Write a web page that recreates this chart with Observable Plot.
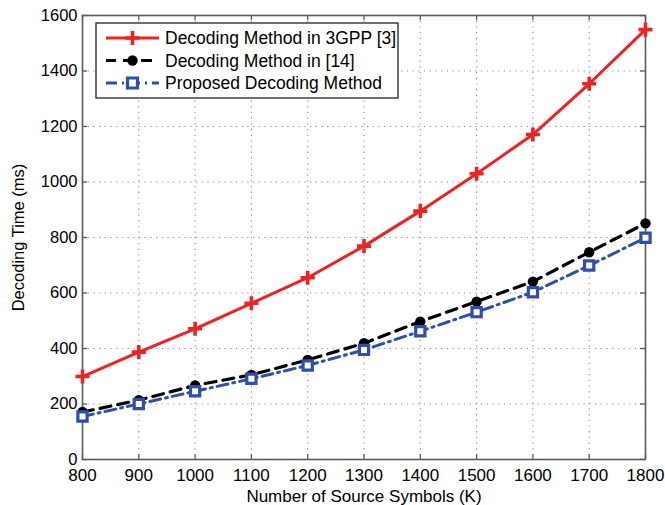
<!DOCTYPE html>
<html><head><meta charset="utf-8">
<script src="https://cdn.jsdelivr.net/npm/d3@7"></script>
<script src="https://cdn.jsdelivr.net/npm/@observablehq/plot@0.6"></script>
<style>body{margin:0;background:#fff}#chart{width:665px;height:505px}</style>
</head><body><div id="chart"></div>
<script>
const symbols = [800, 900, 1000, 1100, 1200, 1300, 1400, 1500, 1600, 1700, 1800];
const time3gpp = [299, 387, 471, 563, 655, 769, 895, 1030, 1171, 1354, 1549];
const timeRef14 = [171, 214, 267, 305, 359, 419, 497, 569, 641, 747, 851];
const timeProposed = [155, 200, 246, 291, 339, 395, 462, 531, 603, 699, 799];
const seriesNames = ["Decoding Method in 3GPP [3]", "Decoding Method in [14]", "Proposed Decoding Method"];
const xTicks = [800, 900, 1000, 1100, 1200, 1300, 1400, 1500, 1600, 1700, 1800];
const yTicks = [0, 200, 400, 600, 800, 1000, 1200, 1400, 1600];
const xLabel = "Number of Source Symbols (K)";
const yLabel = "Decoding Time (ms)";

const rows = (ys) => symbols.map((x, i) => ({x, y: ys[i]}));
const d1 = rows(time3gpp), d2 = rows(timeRef14), d3s = rows(timeProposed);

const W = 665, H = 505, mL = 82, mR = 20, mT = 15, mB = 46;
const red = "#ee2222", blk = "#000", blue = "#2f4fa8";
const gridCol = "#8a8a8a", axCol = "#5a5a5a";
const FONT = "Arimo, 'Liberation Sans', Arial, sans-serif";

const plot = Plot.plot({
  width: W, height: H,
  marginLeft: mL, marginRight: mR, marginTop: mT, marginBottom: mB,
  style: {fontFamily: FONT, fontSize: "17px", color: "#000", background: "#fff"},
  x: {domain: [800, 1800]},
  y: {domain: [0, 1600]},
  marks: [
    Plot.gridX(xTicks, {stroke: gridCol, strokeOpacity: 1, strokeWidth: 1.1, strokeDasharray: "1.2,4.5"}),
    Plot.gridY(yTicks, {stroke: gridCol, strokeOpacity: 1, strokeWidth: 1.1, strokeDasharray: "1.2,4.5"}),
    Plot.tickX(xTicks, {x: d => d, stroke: axCol, strokeWidth: 1.3, insetTop: H - mT - mB - 5}),
    Plot.tickX(xTicks, {x: d => d, stroke: axCol, strokeWidth: 1.3, insetBottom: H - mT - mB - 5}),
    Plot.tickY(yTicks, {y: d => d, stroke: axCol, strokeWidth: 1.3, insetRight: W - mL - mR - 5}),
    Plot.tickY(yTicks, {y: d => d, stroke: axCol, strokeWidth: 1.3, insetLeft: W - mL - mR - 5}),
    Plot.axisX({ticks: xTicks, tickSize: 0, tickPadding: 9.5, tickFormat: d => String(d), label: xLabel, labelAnchor: "center", labelOffset: 42, labelArrow: false, fontSize: 17}),
    Plot.axisY({ticks: yTicks, tickSize: 0, tickPadding: 5, tickFormat: d => String(d), label: yLabel, labelAnchor: "center", labelOffset: 70, labelArrow: false, fontSize: 16.5}),
    Plot.frame({stroke: axCol, strokeWidth: 1.6}),
    Plot.line(d1, {x: "x", y: "y", stroke: red, strokeWidth: 3}),
    Plot.line(d2, {x: "x", y: "y", stroke: blk, strokeWidth: 3.2, strokeDasharray: "11,7"}),
    Plot.line(d3s, {x: "x", y: "y", stroke: blue, strokeWidth: 3, strokeDasharray: "11,5,2,5"}),
    Plot.dot(d1, {x: "x", y: "y", symbol: "plus", stroke: red, strokeWidth: 3.6, r: 4.6}),
    Plot.dot(d2, {x: "x", y: "y", symbol: "circle", fill: blk, stroke: "none", r: 5.2}),
    Plot.dot(d3s, {x: "x", y: "y", symbol: "square", fill: "#fff", stroke: blue, strokeWidth: 3.2, r: 5.2})
  ]
});
document.getElementById("chart").appendChild(plot);

// legend drawn into the plot svg
const svg = d3.select(plot);
const lg = svg.append("g").attr("font-family", FONT).attr("font-size", 17.5).attr("text-anchor", "start");
const lx = 96, ly = 23, lw = 302, lh = 75;
lg.append("rect").attr("x", lx).attr("y", ly).attr("width", lw).attr("height", lh)
  .attr("fill", "#fff").attr("stroke", "#222").attr("stroke-width", 1.3);
const styles = [
  {stroke: red, dash: null, sym: d3.symbolPlus, fill: "none", size: 66, sw: 3.6},
  {stroke: blk, dash: "11,7", sym: d3.symbolCircle, fill: blk, size: 85, sw: 0},
  {stroke: blue, dash: "11,5,2,5", sym: d3.symbolSquare, fill: "#fff", size: 100, sw: 3.2}
];
seriesNames.forEach((name, i) => {
  const cy = ly + 15 + i * 22.5;
  const s = styles[i];
  const x1 = 106, x2 = 159, cx = (x1 + x2) / 2;
  const ln = lg.append("line").attr("x1", x1).attr("x2", x2).attr("y1", cy).attr("y2", cy)
    .attr("stroke", s.stroke).attr("stroke-width", 3.2);
  if (s.dash) ln.attr("stroke-dasharray", s.dash).attr("stroke-dashoffset", i === 1 ? 1 : 0);
  lg.append("path").attr("d", d3.symbol(s.sym, s.size)()).attr("transform", `translate(${cx},${cy})`)
    .attr("fill", s.fill).attr("stroke", i === 1 ? "none" : s.stroke).attr("stroke-width", s.sw);
  lg.append("text").attr("x", 165).attr("y", cy).attr("dy", "0.35em").attr("fill", "#000").text(name);
});
</script></body></html>
